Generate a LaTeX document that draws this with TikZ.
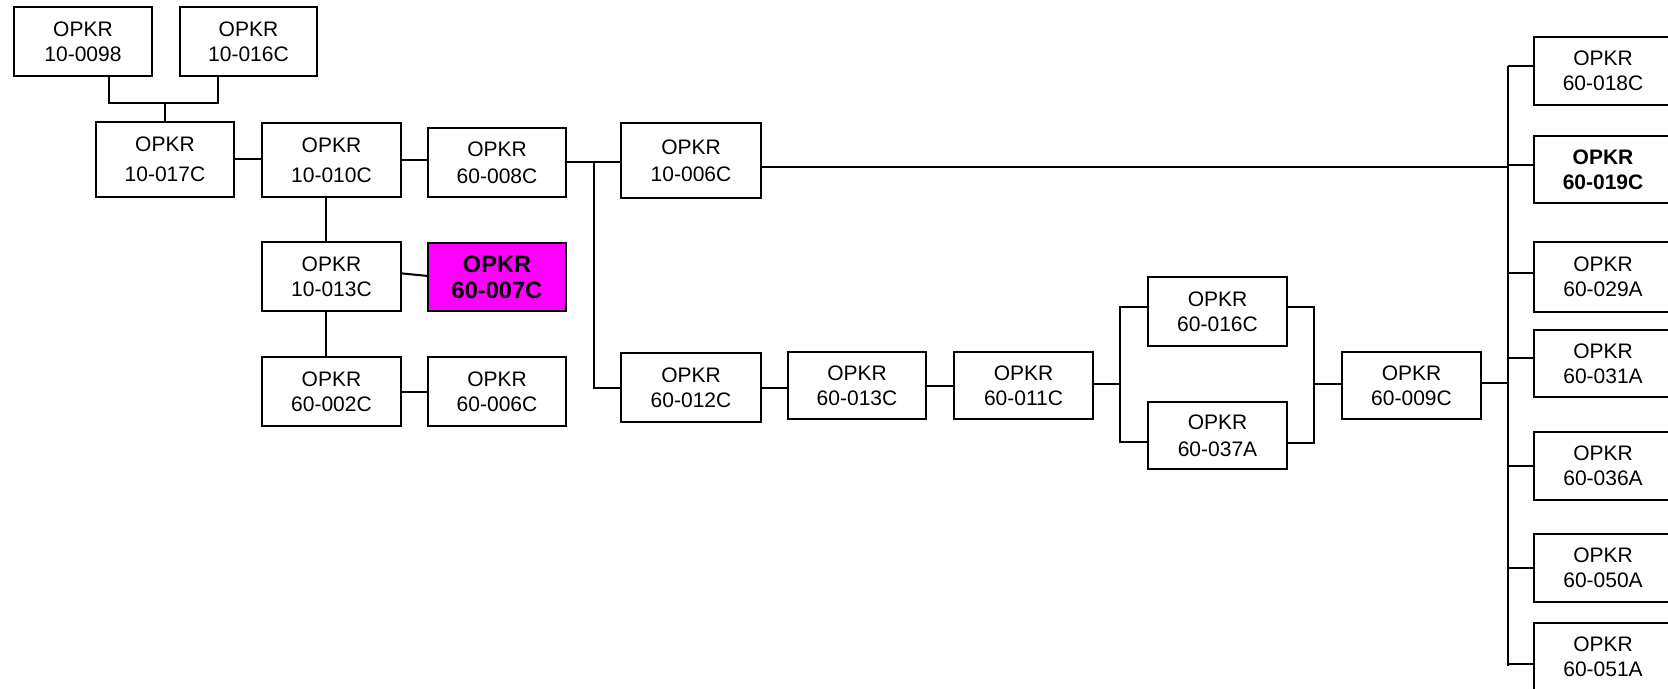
\documentclass[tikz,border=0pt]{standalone}
\usepackage{fontspec}
\setmainfont{Liberation Sans}
\definecolor{hotpink}{RGB}{255,0,255}
\newcommand\bx[7][]{\node[box,#1,minimum width={(#5-#3)*0.5pt},minimum height={(#6-#4)*0.5pt}] (#2) at ({(#3+#5)/2},{(#4+#6)/2}) {#7};}
\begin{document}
\begin{tikzpicture}[x=0.5pt,y=-0.5pt,
  box/.style={draw,line width=1pt,inner sep=0pt,outer sep=0pt,align=center,font=\fontsize{10.5}{12.5}\selectfont},
  wide/.style={font=\fontsize{10.5}{15}\selectfont},
  mid/.style={font=\fontsize{10.5}{13.5}\selectfont},
  hot/.style={fill=hotpink,font=\bfseries\fontsize{11.8}{12.9}\selectfont},
  boldbox/.style={font=\bfseries\fontsize{10.5}{12.5}\selectfont},
  conn/.style={line width=1pt}]
\useasboundingbox (0,0) rectangle (1668,689);
\clip (0,0) rectangle (1668,689);
% boxes
\bx{a98}{14}{7}{152}{76}{OPKR\\10-0098}
\bx{a16}{180}{7}{317}{76}{OPKR\\10-016C}
\bx[wide]{a17}{96}{122}{234}{197}{OPKR\\10-017C}
\bx[wide]{a10}{262}{123}{401}{197}{OPKR\\10-010C}
\bx[mid]{a08}{428}{128}{566}{197}{OPKR\\60-008C}
\bx{a13}{262}{242}{401}{311}{OPKR\\10-013C}
\bx[hot]{a07}{428}{243}{566}{311}{OPKR\\60-007C}
\bx{a02}{262}{357}{401}{426}{OPKR\\60-002C}
\bx{a06}{428}{357}{566}{426}{OPKR\\60-006C}
\bx[mid]{b06}{621}{123}{761}{198}{OPKR\\10-006C}
\bx{b12}{621}{353}{761}{422}{OPKR\\60-012C}
\bx{b13}{788}{352}{926}{419}{OPKR\\60-013C}
\bx{b11}{954}{352}{1093}{419}{OPKR\\60-011C}
\bx{c16}{1148}{277}{1287}{346}{OPKR\\60-016C}
\bx[mid]{c37}{1148}{402}{1287}{469}{OPKR\\60-037A}
\bx{c09}{1342}{352}{1481}{419}{OPKR\\60-009C}
\bx{r18}{1534}{37}{1672}{105}{OPKR\\60-018C}
\bx[boldbox]{r19}{1534}{136}{1672}{203}{OPKR\\60-019C}
\bx{r29}{1534}{242}{1672}{312}{OPKR\\60-029A}
\bx{r31}{1534}{330}{1672}{397}{OPKR\\60-031A}
\bx{r36}{1534}{432}{1672}{500}{OPKR\\60-036A}
\bx{r50}{1534}{534}{1672}{602}{OPKR\\60-050A}
\bx{r51}{1534}{623}{1672}{691}{OPKR\\60-051A}
% top bracket
\coordinate (j1) at (109,103);
\coordinate (j2) at (218,103);
\coordinate (j0) at (165,103);
\draw[conn] (a98.south -| j1) -- (j1) -- (j2) -- (a16.south -| j2);
\draw[conn] (j0) -- (a17.north -| j0);
% left group
\draw[conn] (a17.east) -- (a17.east -| a10.west);
\draw[conn] (a10.east) -- (a10.east -| a08.west);
\coordinate (v1) at (326,0);
\draw[conn] (a10.south -| v1) -- (a13.north -| v1);
\draw[conn] (a13.south -| v1) -- (a02.north -| v1);
\draw[conn] ([yshift=1.6pt]a13.east) -- ([yshift=0.5pt]a07.west);
\draw[conn] (a02.east) -- (a02.east -| a06.west);
% first trunk
\coordinate (t1) at (594,162.5);
\coordinate (t2) at (594,388);
\draw[conn] (a08.east) -- (a08.east -| b06.west);
\draw[conn] (t1) -- (t2) -- (t2 -| b12.west);
\coordinate (q06) at (1508,167.5);
\draw[conn] (q06 -| b06.east) -- (q06);
% lower chain
\draw[conn] (b12.east) -- (b12.east -| b13.west);
\draw[conn] (b13.east) -- (b13.east -| b11.west);
\coordinate (k0) at (1120,307.5);
\coordinate (k1) at (1120,384);
\coordinate (k2) at (1120,442);
\draw[conn] (b11.east |- k1) -- (k1);
\draw[conn] (k0 -| c16.west) -- (k0) -- (k2) -- (k2 -| c37.west);
\coordinate (m0) at (1314,307.5);
\coordinate (m1) at (1314,384);
\coordinate (m2) at (1314,443);
\draw[conn] (m0 -| c16.east) -- (m0) -- (m2) -- (m2 -| c37.east);
\draw[conn] (m1) -- (m1 -| c09.west);
\coordinate (q09) at (1508,383);
\draw[conn] (q09 -| c09.east) -- (q09);
% right trunk
\coordinate (qa) at (1508,65.7);
\coordinate (qb) at (1508,164.7);
\coordinate (qc) at (1508,273.3);
\coordinate (qd) at (1508,357.5);
\coordinate (qe) at (1508,466);
\coordinate (qf) at (1508,568);
\coordinate (qg) at (1508,664);
\coordinate (qz) at (1508,666);
\draw[conn] (qa) -- (qz);
\draw[conn] (qa) -- (qa -| r18.west);
\draw[conn] (qb) -- (qb -| r19.west);
\draw[conn] (qc) -- (qc -| r29.west);
\draw[conn] (qd) -- (qd -| r31.west);
\draw[conn] (qe) -- (qe -| r36.west);
\draw[conn] (qf) -- (qf -| r50.west);
\draw[conn] (qg) -- (qg -| r51.west);
\end{tikzpicture}
\end{document}
